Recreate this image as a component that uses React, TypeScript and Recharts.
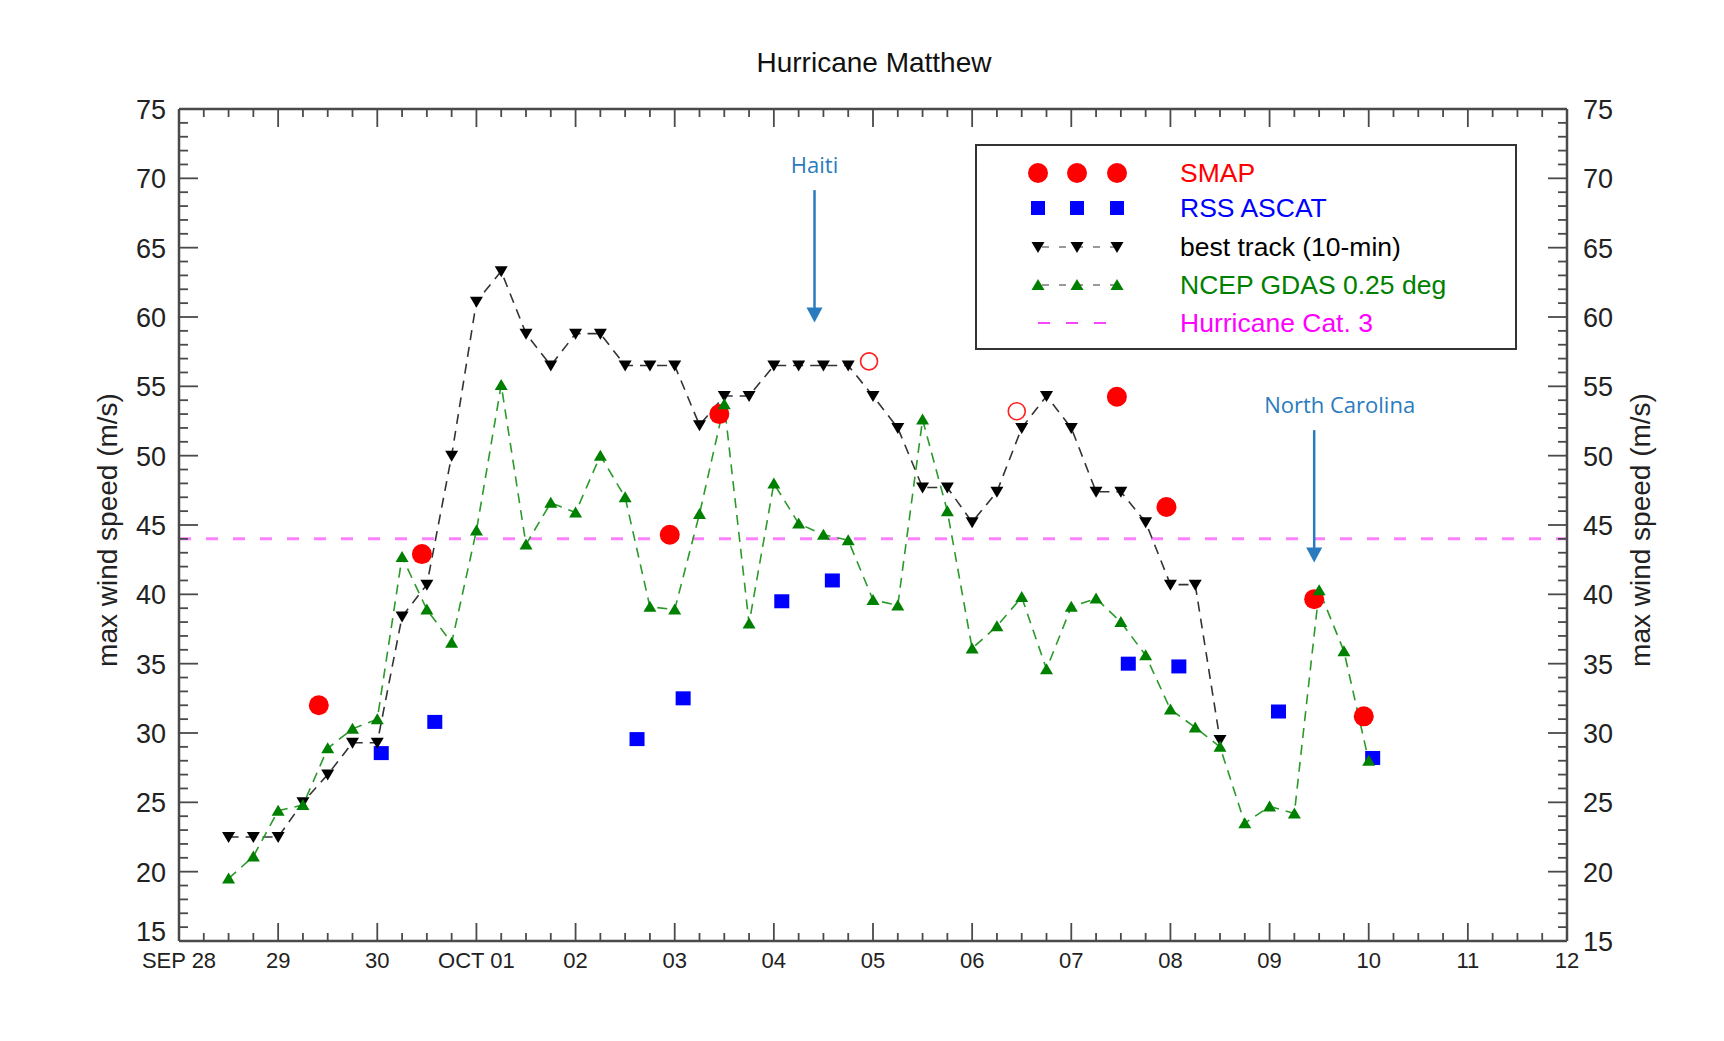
import React from "react"
import { ComposedChart, Line, XAxis, YAxis, ReferenceLine } from "recharts"

// time axis: days since SEP 28 00Z
const dayLabels = ["SEP 28", "29", "30", "OCT 01", "02", "03", "04", "05", "06", "07", "08", "09", "10", "11", "12"]

const bestTrackTime = [
  0.5, 0.75, 1.0, 1.25, 1.5, 1.75, 2.0, 2.25, 2.5, 2.75, 3.0, 3.25, 3.5, 3.75, 4.0, 4.25, 4.5, 4.75, 5.0, 5.25, 5.5,
  5.75, 6.0, 6.25, 6.5, 6.75, 7.0, 7.25, 7.5, 7.75, 8.0, 8.25, 8.5, 8.75, 9.0, 9.25, 9.5, 9.75, 10.0, 10.25, 10.5,
]
const bestTrackSpeed = [
  22.5, 22.5, 22.5, 25, 27, 29.3, 29.3, 38.4, 40.7, 50, 61.1, 63.3, 58.8, 56.5, 58.8, 58.8, 56.5, 56.5, 56.5, 52.2, 54.3,
  54.3, 56.5, 56.5, 56.5, 56.5, 54.3, 52.0, 47.7, 47.7, 45.2, 47.4, 52.0, 54.3, 52.0, 47.4, 47.4, 45.2, 40.7, 40.7, 29.5,
]

const gdasTime = [
  0.5, 0.75, 1.0, 1.25, 1.5, 1.75, 2.0, 2.25, 2.5, 2.75, 3.0, 3.25, 3.5, 3.75, 4.0, 4.25, 4.5, 4.75, 5.0, 5.25, 5.5,
  5.75, 6.0, 6.25, 6.5, 6.75, 7.0, 7.25, 7.5, 7.75, 8.0, 8.25, 8.5, 8.75, 9.0, 9.25, 9.5, 9.75, 10.0, 10.25, 10.5,
  10.75, 11.0, 11.25, 11.5, 11.75, 12.0,
]
const gdasSpeed = [
  19.5, 21.1, 24.4, 24.8, 28.9, 30.3, 31.0, 42.7, 38.9, 36.5, 44.6, 55.1, 43.6, 46.6, 45.9, 50.0, 47.0, 39.1, 38.9, 45.8,
  53.7, 37.9, 48.0, 45.1, 44.3, 43.9, 39.6, 39.2, 52.6, 46.0, 36.1, 37.7, 39.8, 34.6, 39.1, 39.7, 38.0, 35.6, 31.7, 30.4,
  29.0, 23.5, 24.7, 24.2, 40.3, 35.9, 28.0,
]

const smapTime = [1.41, 2.45, 4.95, 5.45, 9.46, 9.96, 11.45, 11.95]
const smapSpeed = [32.0, 42.9, 44.3, 53.0, 54.25, 46.3, 39.65, 31.2]
const smapOpenTime = [6.96, 8.45]
const smapOpenSpeed = [56.8, 53.2]

const ascatTime = [2.04, 2.58, 4.62, 5.085, 6.08, 6.59, 9.575, 10.085, 11.09, 12.04]
const ascatSpeed = [28.55, 30.8, 29.56, 32.5, 39.5, 41.0, 35.0, 34.8, 31.55, 28.2]

const hurricaneCat3 = 44

const landfalls = [
  { name: "Haiti", time: 6.41, top: 69.15, tip: 59.6 },
  { name: "North Carolina", time: 11.45, top: 51.84, tip: 42.3 },
]

const toPoints = (t: number[], v: number[]) => t.map((x, i) => ({ x, y: v[i] }))

const AXIS = "#4a4a4a"
const FONT = "'Liberation Sans', Arial, Helvetica, sans-serif"
const NOTE = "#2a7bbd"

const xTicks = Array.from({ length: 57 }, (_, i) => i * 0.25)
const yTicks = Array.from({ length: 61 }, (_, i) => 15 + i)

const isWhole = (v: number) => Math.abs(v - Math.round(v)) < 1e-6

function BottomTick(props: any) {
  const { x, y, payload } = props
  const v = payload.value
  const major = isWhole(v)
  return (
    <g>
      <line x1={x} y1={y} x2={x} y2={y - (major ? 18 : 8)} stroke={AXIS} strokeWidth={1.8} />
      {major && (
        <text x={x} y={y + 27} textAnchor="middle" fontSize={22} fill="#222" fontFamily={FONT}>
          {dayLabels[Math.round(v)]}
        </text>
      )}
    </g>
  )
}

function TopTick(props: any) {
  const { x, y, payload } = props
  const major = isWhole(payload.value)
  return <line x1={x} y1={y} x2={x} y2={y + (major ? 18 : 8)} stroke={AXIS} strokeWidth={1.8} />
}

function LeftTick(props: any) {
  const { x, y, payload } = props
  const v = payload.value
  const major = v % 5 === 0
  // the lowest label sits a little higher so it clears "SEP 28"
  const dy = v === 15 ? 0 : 10
  return (
    <g>
      <line x1={x} y1={y} x2={x + (major ? 19 : 9)} y2={y} stroke={AXIS} strokeWidth={1.8} />
      {major && (
        <text x={x - 13} y={y + dy} textAnchor="end" fontSize={27} fill="#222" fontFamily={FONT}>
          {v}
        </text>
      )}
    </g>
  )
}

function RightTick(props: any) {
  const { x, y, payload } = props
  const v = payload.value
  const major = v % 5 === 0
  return (
    <g>
      <line x1={x} y1={y} x2={x - (major ? 19 : 9)} y2={y} stroke={AXIS} strokeWidth={1.8} />
      {major && (
        <text x={x + 16} y={y + 10} textAnchor="start" fontSize={27} fill="#222" fontFamily={FONT}>
          {v}
        </text>
      )}
    </g>
  )
}

function DownTri({ cx, cy, fill }: { cx: number; cy: number; fill: string }) {
  return <polygon points={`${cx - 6.5},${cy - 5} ${cx + 6.5},${cy - 5} ${cx},${cy + 6}`} fill={fill} />
}

function UpTri({ cx, cy, fill }: { cx: number; cy: number; fill: string }) {
  return <polygon points={`${cx - 6.5},${cy + 5} ${cx + 6.5},${cy + 5} ${cx},${cy - 6}`} fill={fill} />
}

function arrowShape(name: string) {
  return (props: any) => {
    const { x1, y1, y2 } = props
    const nc = name !== "Haiti"
    return (
      <g>
        <line x1={x1} y1={y1} x2={x1} y2={y2 - 12} stroke={NOTE} strokeWidth={2.5} />
        <polygon points={`${x1 - 8},${y2 - 15} ${x1 + 8},${y2 - 15} ${x1},${y2}`} fill={NOTE} />
        <text
          x={nc ? x1 - 50 : x1}
          y={y1 - 17}
          textAnchor={nc ? "start" : "middle"}
          fontSize={22}
          fill={NOTE}
          fontFamily="'Open Sans', 'Noto Sans', sans-serif"
        >
          {name}
        </text>
      </g>
    )
  }
}

const legendRows = [
  { label: "SMAP", color: "#ff0000", kind: "circle" },
  { label: "RSS ASCAT", color: "#0000ff", kind: "square" },
  { label: "best track (10-min)", color: "#000000", kind: "down" },
  { label: "NCEP GDAS 0.25 deg", color: "#008000", kind: "up" },
  { label: "Hurricane Cat. 3", color: "#ff00ff", kind: "dash" },
]

function Overlay() {
  const rowY = [173, 208, 247, 285, 323]
  const symX = [1038, 1077, 1117]
  return (
    <svg width={1724} height={1041} style={{ position: "absolute", left: 0, top: 0, pointerEvents: "none" }}>
      <text x={874} y={72} textAnchor="middle" fontSize={28} fill="#111" fontFamily={FONT}>
        Hurricane Matthew
      </text>
      <text transform="translate(117,530) rotate(-90)" textAnchor="middle" fontSize={28} fill="#222" fontFamily={FONT}>
        max wind speed (m/s)
      </text>
      <text transform="translate(1650,530) rotate(-90)" textAnchor="middle" fontSize={28} fill="#222" fontFamily={FONT}>
        max wind speed (m/s)
      </text>
      <rect x={976} y={145} width={540} height={204} fill="#fff" stroke="#333" strokeWidth={2} />
      {legendRows.map((r, i) => {
        const y = rowY[i]
        return (
          <g key={r.label}>
            {r.kind === "down" || r.kind === "up" ? (
              <line x1={symX[0]} y1={y} x2={symX[2]} y2={y} stroke="#999" strokeWidth={2} strokeDasharray="7 10" strokeDashoffset={-4} />
            ) : null}
            {r.kind === "dash" ? (
              <line x1={symX[0]} y1={y} x2={symX[2] - 10} y2={y} stroke="#ff44ff" strokeWidth={2} strokeDasharray="12 16" />
            ) : (
              symX.map((sx) =>
                r.kind === "circle" ? (
                  <circle key={sx} cx={sx} cy={y} r={10} fill={r.color} />
                ) : r.kind === "square" ? (
                  <rect key={sx} x={sx - 7} y={y - 7} width={14} height={14} fill={r.color} />
                ) : r.kind === "down" ? (
                  <DownTri key={sx} cx={sx} cy={y} fill={r.color} />
                ) : (
                  <UpTri key={sx} cx={sx} cy={y} fill={r.color} />
                )
              )
            )}
            <text x={1180} y={y} dominantBaseline="central" fontSize={26.5} fill={r.color} fontFamily={FONT}>
              {r.label}
            </text>
          </g>
        )
      })}
    </svg>
  )
}

export default function App() {
  const best = toPoints(bestTrackTime, bestTrackSpeed)
  const gdas = toPoints(gdasTime, gdasSpeed)
  const smap = toPoints(smapTime, smapSpeed)
  const smapOpen = toPoints(smapOpenTime, smapOpenSpeed)
  const ascat = toPoints(ascatTime, ascatSpeed)
  return (
    <div style={{ position: "relative", width: 1724, height: 1041, background: "#fff" }}>
      <style>{`body{margin:0;background:#fff}`}</style>
      <ComposedChart width={1724} height={1041} margin={{ top: 79, right: 97, bottom: 70, left: 119 }}>
        <XAxis
          xAxisId="b"
          dataKey="x"
          type="number"
          domain={[0, 14]}
          allowDataOverflow
          ticks={xTicks}
          interval={0}
          height={30}
          tickSize={0}
          tickMargin={0}
          tickLine={false}
          axisLine={{ stroke: AXIS, strokeWidth: 2.5 }}
          tick={<BottomTick />}
        />
        <XAxis
          xAxisId="t"
          orientation="top"
          dataKey="x"
          type="number"
          domain={[0, 14]}
          allowDataOverflow
          ticks={xTicks}
          interval={0}
          height={30}
          tickSize={0}
          tickMargin={0}
          tickLine={false}
          axisLine={{ stroke: AXIS, strokeWidth: 2.5 }}
          tick={<TopTick />}
        />
        <YAxis
          yAxisId="l"
          type="number"
          domain={[15, 75]}
          allowDataOverflow
          ticks={yTicks}
          interval={0}
          width={60}
          tickSize={0}
          tickMargin={0}
          tickLine={false}
          axisLine={{ stroke: AXIS, strokeWidth: 2.5 }}
          tick={<LeftTick />}
        />
        <YAxis
          yAxisId="r"
          orientation="right"
          type="number"
          domain={[15, 75]}
          allowDataOverflow
          ticks={yTicks}
          interval={0}
          width={60}
          tickSize={0}
          tickMargin={0}
          tickLine={false}
          axisLine={{ stroke: AXIS, strokeWidth: 2.5 }}
          tick={<RightTick />}
        />
        <ReferenceLine
          xAxisId="b"
          yAxisId="l"
          y={hurricaneCat3}
          stroke="#ff80ff"
          strokeWidth={3}
          strokeDasharray="12 15"
        />
        {landfalls.map((lf) => (
          <ReferenceLine
            key={lf.name}
            xAxisId="b"
            yAxisId="l"
            segment={[
              { x: lf.time, y: lf.top },
              { x: lf.time, y: lf.tip },
            ]}
            shape={arrowShape(lf.name)}
          />
        ))}
        <Line
          xAxisId="b"
          yAxisId="l"
          data={ascat}
          dataKey="y"
          stroke="none"
          isAnimationActive={false}
          activeDot={false}
          dot={(p: any) => <rect key={`a${p.index}`} x={p.cx - 7.5} y={p.cy - 7} width={15} height={14} fill="#0000ff" />}
        />
        <Line
          xAxisId="b"
          yAxisId="l"
          data={smap}
          dataKey="y"
          stroke="none"
          isAnimationActive={false}
          activeDot={false}
          dot={(p: any) => <circle key={`s${p.index}`} cx={p.cx} cy={p.cy} r={10} fill="#ff0000" />}
        />
        <Line
          xAxisId="b"
          yAxisId="l"
          data={smapOpen}
          dataKey="y"
          stroke="none"
          isAnimationActive={false}
          activeDot={false}
          dot={(p: any) => (
            <circle key={`o${p.index}`} cx={p.cx} cy={p.cy} r={8.5} fill="none" stroke="#ff2020" strokeWidth={1.6} />
          )}
        />
        <Line
          xAxisId="b"
          yAxisId="l"
          data={best}
          dataKey="y"
          stroke="#333"
          strokeWidth={1.6}
          strokeDasharray="10 7"
          isAnimationActive={false}
          activeDot={false}
          dot={(p: any) => <DownTri key={`b${p.index}`} cx={p.cx} cy={p.cy} fill="#000" />}
        />
        <Line
          xAxisId="b"
          yAxisId="l"
          data={gdas}
          dataKey="y"
          stroke="#2a9a2a"
          strokeWidth={1.6}
          strokeDasharray="10 7"
          isAnimationActive={false}
          activeDot={false}
          dot={(p: any) => <UpTri key={`g${p.index}`} cx={p.cx} cy={p.cy} fill="#008000" />}
        />
      </ComposedChart>
      <Overlay />
    </div>
  )
}
